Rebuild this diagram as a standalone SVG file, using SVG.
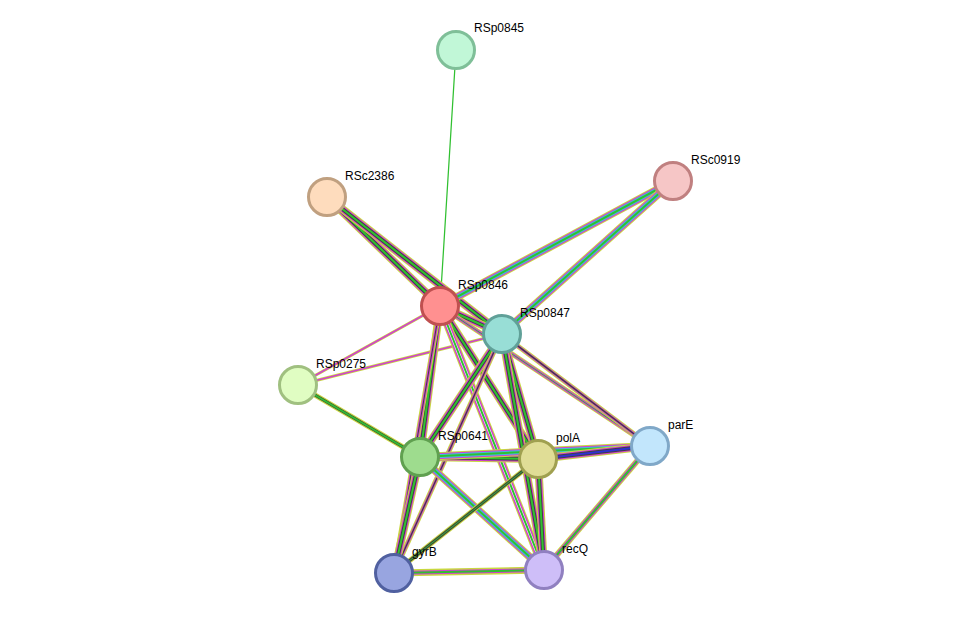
<svg xmlns="http://www.w3.org/2000/svg" xmlns:xlink="http://www.w3.org/1999/xlink" width="975" height="619" viewBox="0 0 975 619">
<style>
line{stroke-linecap:butt}
.y{stroke:#c8d840;stroke-width:8}
.m{stroke:#d040d0;stroke-width:6}
.c{stroke:#40c0e0;stroke-width:4}
.k{stroke:#404040;stroke-width:4}
.g{stroke:#30c030;stroke-width:2}
.g1{stroke:#30c030;stroke-width:1.3}
.w{stroke:#fff;stroke-width:1}
circle{stroke-width:3}
text{font-family:"Liberation Sans",Arial,sans-serif;font-size:12px;fill:#000}
</style>
<rect width="975" height="619" fill="#fff"/>
<g id="connectors">
<line class="g1" x1="456" y1="50" x2="440" y2="306"/>
<g id="e-multi">
<line class="y" x1="327" y1="197" x2="440" y2="306"/><line class="m" x1="327" y1="197" x2="440" y2="306"/><line class="k" x1="327" y1="197" x2="440" y2="306"/><line class="g" x1="327" y1="197" x2="440" y2="306"/>
<line class="y" x1="327" y1="197" x2="502" y2="334"/><line class="m" x1="327" y1="197" x2="502" y2="334"/><line class="k" x1="327" y1="197" x2="502" y2="334"/><line class="g" x1="327" y1="197" x2="502" y2="334"/>
<line class="y" x1="673" y1="181" x2="440" y2="306"/><line class="m" x1="673" y1="181" x2="440" y2="306"/><line class="c" x1="673" y1="181" x2="440" y2="306"/><line class="g" x1="673" y1="181" x2="440" y2="306"/>
<line class="y" x1="673" y1="181" x2="502" y2="334"/><line class="m" x1="673" y1="181" x2="502" y2="334"/><line class="c" x1="673" y1="181" x2="502" y2="334"/><line class="g" x1="673" y1="181" x2="502" y2="334"/>
<line class="y" x1="440" y1="306" x2="502" y2="334"/><line class="m" x1="440" y1="306" x2="502" y2="334"/><line class="k" x1="440" y1="306" x2="502" y2="334"/><line class="g" x1="440" y1="306" x2="502" y2="334"/>
<line class="y" x1="298" y1="385" x2="440" y2="306" style="stroke-width:3"/><line class="m" x1="298" y1="385" x2="440" y2="306" style="stroke-width:1.5"/>
<line class="y" x1="298" y1="385" x2="502" y2="334" style="stroke-width:3"/><line class="m" x1="298" y1="385" x2="502" y2="334" style="stroke-width:1.5"/>
<line class="y" x1="298" y1="385" x2="420" y2="457" style="stroke-width:5"/><line class="k" x1="298" y1="385" x2="420" y2="457" style="stroke-width:3"/><line class="g" x1="298" y1="385" x2="420" y2="457"/>
<line class="y" x1="440" y1="306" x2="420" y2="457"/><line class="m" x1="440" y1="306" x2="420" y2="457"/><line class="k" x1="440" y1="306" x2="420" y2="457"/><line class="g" x1="440" y1="306" x2="420" y2="457"/>
<line class="y" x1="440" y1="306" x2="538" y2="459"/><line class="m" x1="440" y1="306" x2="538" y2="459"/><line class="k" x1="440" y1="306" x2="538" y2="459"/><line class="g" x1="440" y1="306" x2="538" y2="459"/>
<line class="y" x1="440" y1="306" x2="544" y2="570"/><line class="m" x1="440" y1="306" x2="544" y2="570"/><line class="w" x1="440" y1="306" x2="544" y2="570" style="stroke-width:3"/><line class="g" x1="440" y1="306" x2="544" y2="570"/>
<line class="y" x1="440" y1="306" x2="650" y2="446" style="stroke-width:5"/><line class="m" x1="440" y1="306" x2="650" y2="446" style="stroke-width:3"/><line class="g" x1="440" y1="306" x2="650" y2="446" style="stroke-width:1"/>
<line class="y" x1="440" y1="306" x2="394" y2="573" style="stroke-width:5"/><line class="m" x1="440" y1="306" x2="394" y2="573" style="stroke-width:3"/><line class="k" x1="440" y1="306" x2="394" y2="573" style="stroke-width:1"/>
<line class="y" x1="502" y1="334" x2="538" y2="459"/><line class="m" x1="502" y1="334" x2="538" y2="459"/><line class="k" x1="502" y1="334" x2="538" y2="459"/><line class="g" x1="502" y1="334" x2="538" y2="459"/>
<line class="y" x1="502" y1="334" x2="544" y2="570"/><line class="m" x1="502" y1="334" x2="544" y2="570"/><line class="k" x1="502" y1="334" x2="544" y2="570"/><line class="g" x1="502" y1="334" x2="544" y2="570"/>
<line class="y" x1="502" y1="334" x2="650" y2="446" style="stroke-width:5"/><line class="m" x1="502" y1="334" x2="650" y2="446" style="stroke-width:3"/><line class="k" x1="502" y1="334" x2="650" y2="446" style="stroke-width:1.5"/>
<line class="y" x1="502" y1="334" x2="420" y2="457"/><line class="m" x1="502" y1="334" x2="420" y2="457"/><line class="k" x1="502" y1="334" x2="420" y2="457"/><line class="g" x1="502" y1="334" x2="420" y2="457"/>
<line class="y" x1="502" y1="334" x2="394" y2="573" style="stroke-width:5"/><line class="m" x1="502" y1="334" x2="394" y2="573" style="stroke-width:3"/><line class="k" x1="502" y1="334" x2="394" y2="573" style="stroke-width:1.3"/>
<line class="y" x1="420" y1="457" x2="538" y2="459"/><line class="m" x1="420" y1="457" x2="538" y2="459"/><line class="k" x1="420" y1="457" x2="538" y2="459"/><line class="g" x1="420" y1="457" x2="538" y2="459"/>
<line class="y" x1="420" y1="457" x2="650" y2="446"/><line class="m" x1="420" y1="457" x2="650" y2="446"/><line class="c" x1="420" y1="457" x2="650" y2="446"/><line class="g" x1="420" y1="457" x2="650" y2="446"/>
<line class="y" x1="420" y1="457" x2="544" y2="570"/><line class="m" x1="420" y1="457" x2="544" y2="570"/><line class="c" x1="420" y1="457" x2="544" y2="570"/><line class="g" x1="420" y1="457" x2="544" y2="570"/>
<line class="y" x1="420" y1="457" x2="394" y2="573"/><line class="m" x1="420" y1="457" x2="394" y2="573"/><line class="k" x1="420" y1="457" x2="394" y2="573"/><line class="g" x1="420" y1="457" x2="394" y2="573"/>
<line class="y" x1="538" y1="459" x2="650" y2="446"/><line class="m" x1="538" y1="459" x2="650" y2="446"/><line class="k" x1="538" y1="459" x2="650" y2="446"/><line style="stroke:#3030d0;stroke-width:2" x1="538" y1="459" x2="650" y2="446"/>
<line class="y" x1="538" y1="459" x2="544" y2="570"/><line class="m" x1="538" y1="459" x2="544" y2="570"/><line class="k" x1="538" y1="459" x2="544" y2="570"/><line class="g" x1="538" y1="459" x2="544" y2="570"/>
<line class="y" x1="538" y1="459" x2="394" y2="573" style="stroke-width:5"/><line class="k" x1="538" y1="459" x2="394" y2="573" style="stroke-width:3"/><line class="g" x1="538" y1="459" x2="394" y2="573" style="stroke-width:1"/>
<line class="y" x1="650" y1="446" x2="544" y2="570" style="stroke-width:6"/><line class="m" x1="650" y1="446" x2="544" y2="570" style="stroke-width:4"/><line class="g" x1="650" y1="446" x2="544" y2="570"/>
<line class="y" x1="394" y1="573" x2="544" y2="570" style="stroke-width:7"/><line class="m" x1="394" y1="573" x2="544" y2="570" style="stroke-width:4"/><line class="g" x1="394" y1="573" x2="544" y2="570" style="stroke-width:2"/>
</g>
</g>
<g id="RSp0845"><circle cx="456" cy="50" r="18.5" fill="#c1f7d7" stroke="#7fbf98"/><text x="474" y="32">RSp0845</text></g>
<g id="RSc2386"><circle cx="327" cy="197" r="18.5" fill="#fedcbd" stroke="#c0a080"/><text x="345" y="180">RSc2386</text></g>
<g id="RSc0919"><circle cx="673" cy="181" r="18.5" fill="#f6c6c6" stroke="#c08080"/><text x="691" y="164">RSc0919</text></g>
<g id="RSp0846"><circle cx="440" cy="306" r="18.5" fill="#ff9090" stroke="#c05050"/><text x="458" y="289">RSp0846</text></g>
<g id="RSp0847"><circle cx="502" cy="334" r="18.5" fill="#98ded6" stroke="#60a098"/><text x="520" y="317">RSp0847</text></g>
<g id="RSp0275"><circle cx="298" cy="385" r="18.5" fill="#e0fdc2" stroke="#a0c080"/><text x="316" y="368">RSp0275</text></g>
<g id="RSp0641"><circle cx="420" cy="457" r="18.5" fill="#9edc8e" stroke="#60a050"/><text x="438" y="440">RSp0641</text></g>
<g id="polA"><circle cx="538" cy="459" r="18.5" fill="#e0dd96" stroke="#a0a050"/><text x="556" y="442">polA</text></g>
<g id="parE"><circle cx="650" cy="446" r="18.5" fill="#c2e6fc" stroke="#80a8c8"/><text x="668" y="429">parE</text></g>
<g id="gyrB"><circle cx="394" cy="573" r="18.5" fill="#98a5e0" stroke="#5060a0"/><text x="412" y="556">gyrB</text></g>
<g id="recQ"><circle cx="544" cy="570" r="18.5" fill="#cebef8" stroke="#9080c0"/><text x="562" y="553">recQ</text></g>
</svg>
